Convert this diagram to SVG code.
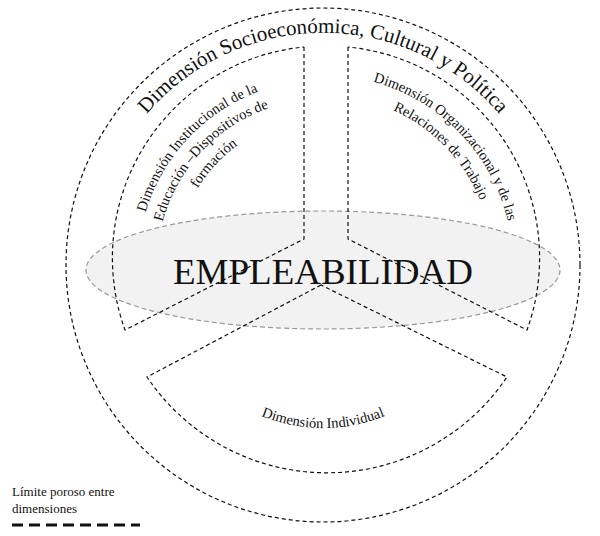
<svg xmlns="http://www.w3.org/2000/svg" xmlns:xlink="http://www.w3.org/1999/xlink" width="600" height="536" viewBox="0 0 600 536">
<style>
.d{fill:none;stroke:#111;stroke-width:1.2;stroke-dasharray:4 3}
.t{font-family:"Liberation Serif",serif;fill:#111}
</style>
<defs>
<path id="po" d="M94.5,224.7 A232,232 0 0 1 551.5,224.7"/>
<path id="l1" d="M138.2,255.4 A185,185 0 0 1 300.5,81.4"/>
<path id="l2" d="M157.2,256.3 A166,166 0 0 1 302.8,100.2"/>
<path id="l3" d="M176.2,257.3 A147,147 0 0 1 305.1,119.1"/>
<path id="r1" d="M342.9,76.0 A190,190 0 0 1 512.5,251.7"/>
<path id="r2" d="M340.8,95.9 A170,170 0 0 1 492.6,253.1"/>
<path id="b1" d="M181.8,346.5 A163,163 0 0 0 464.2,346.5"/>
</defs>
<rect width="600" height="536" fill="#fff"/>
<g id="outer">
<circle class="d" cx="323" cy="265" r="257"/>
<text class="t" font-size="21"><textPath xlink:href="#po" href="#po" startOffset="50%" text-anchor="middle">Dimensión Socioeconómica, Cultural y Política</textPath></text>
</g>
<g id="empleabilidad">
<ellipse cx="323" cy="270" rx="237" ry="59" fill="#f2f2f2" stroke="#999" stroke-width="1.2" stroke-dasharray="5 3"/>
</g>
<g id="connectors">
<path class="d" d="M304,47 L304,239 L125,330 A212,212 0 0 1 304,47"/>
<path class="d" d="M348,47 L348,239 L527,330 A212,212 0 0 0 348,47"/>
<path class="d" d="M321,285 L147,377 A217,217 0 0 0 507,377 Z"/>
</g>
<g id="institucional">
<text class="t" font-size="14.5"><textPath xlink:href="#l1" href="#l1" startOffset="50%" text-anchor="middle">Dimensión Institucional de la</textPath></text>
<text class="t" font-size="14.5"><textPath xlink:href="#l2" href="#l2" startOffset="50%" text-anchor="middle">Educación –Dispositivos de</textPath></text>
<text class="t" font-size="14.5"><textPath xlink:href="#l3" href="#l3" startOffset="50%" text-anchor="middle">formación</textPath></text>
</g>
<g id="organizacional">
<text class="t" font-size="14.5"><textPath xlink:href="#r1" href="#r1" startOffset="50%" text-anchor="middle">Dimensión Organizacional y de las</textPath></text>
<text class="t" font-size="14.5"><textPath xlink:href="#r2" href="#r2" startOffset="50%" text-anchor="middle">Relaciones de Trabajo</textPath></text>
</g>
<g id="individual">
<text class="t" font-size="14.5"><textPath xlink:href="#b1" href="#b1" startOffset="50%" text-anchor="middle">Dimensión Individual</textPath></text>
</g>
<text class="t" x="323" y="284" font-size="36" text-anchor="middle" textLength="300" lengthAdjust="spacingAndGlyphs">EMPLEABILIDAD</text>
<g id="legend">
<text class="t" x="12" y="496" font-size="13">Límite poroso entre</text>
<text class="t" x="12" y="513" font-size="13">dimensiones</text>
<line x1="12" y1="525" x2="140" y2="525" stroke="#111" stroke-width="3" stroke-dasharray="11 6"/>
</g>
</svg>
